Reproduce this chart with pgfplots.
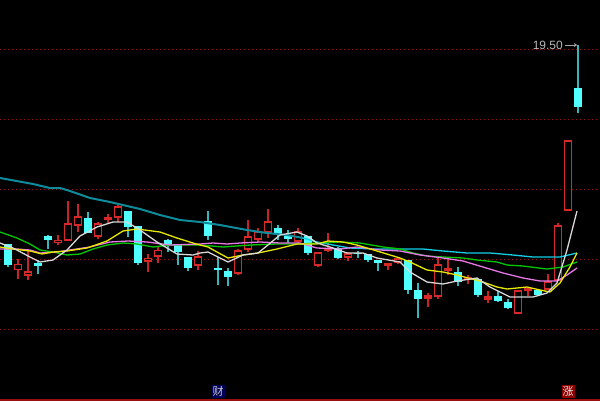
\documentclass[border=0pt]{standalone}
\usepackage{pgfplots}
\pgfplotsset{compat=1.18}
\usetikzlibrary{arrows.meta}
\usepackage{fontspec}
\setmainfont{Liberation Sans}
\newfontfamily\cjk{Noto Sans CJK SC}
\definecolor{cbody}{HTML}{50FFFF}
\definecolor{cwick}{HTML}{38B4BC}
\definecolor{rbody}{HTML}{D82828}
\definecolor{rwick}{HTML}{C42424}
\definecolor{gridred}{HTML}{9A1010}
\definecolor{tealma}{HTML}{0E8C9C}
\definecolor{cyanma}{HTML}{10D0E8}
\definecolor{greenma}{HTML}{00C800}
\definecolor{pinkma}{HTML}{E878E8}
\definecolor{yellowma}{HTML}{E8E800}
\definecolor{whitema}{HTML}{D8D8D8}
\newcommand\cyancandle[5]{%
  \addplot[cwick,line width=1.4pt,forget plot] coordinates {(#1,#2)(#1,#3)};
  \pgfmathsetmacro\xl{#1-3.7}\pgfmathsetmacro\xr{#1+3.7}%
  \edef\tmp{\noexpand\addplot[fill=cbody,draw=none,forget plot] coordinates {(\xl,#4)(\xr,#4)(\xr,#5)(\xl,#5)} -- cycle;}\tmp}
\newcommand\redcandle[5]{%
  \addplot[rwick,line width=1.4pt,forget plot] coordinates {(#1,#2)(#1,#3)};
  \pgfmathsetmacro\xl{#1-3.4}\pgfmathsetmacro\xr{#1+3.4}%
  \edef\tmp{\noexpand\addplot[fill=black,draw=rbody,line width=1.3pt,forget plot] coordinates {(\xl,#4)(\xr,#4)(\xr,#5)(\xl,#5)} -- cycle;}\tmp}
\newcommand\gridrow[1]{\addplot[gridred,line width=1pt,dash pattern=on 1pt off 3pt,forget plot] coordinates {(0,#1)(600,#1)};}
\begin{document}
\begin{tikzpicture}
\begin{axis}[
  scale only axis, width=600pt, height=400pt,
  xmin=0, xmax=600, ymin=0, ymax=400, y dir=reverse,
  axis background/.style={fill=black},
  axis line style={draw=none},
  xtick=\empty, ytick=\empty,
  clip=true,
]
\gridrow{49}\gridrow{119}\gridrow{189}\gridrow{259}\gridrow{329}
\addplot[gridred,line width=2pt,forget plot] coordinates {(0,399.5)(600,399.5)};
% candles: x, high, low, body top, body bottom
\cyancandle{8}{244}{267}{244}{265}
\redcandle{18}{259}{279}{264.3}{269.3}
\redcandle{28}{251}{280}{272}{275}
\cyancandle{38}{260}{274}{263}{266}
\cyancandle{48}{235}{249}{236}{240}
\redcandle{58}{235}{245}{240.5}{242.5}
\redcandle{68}{201}{240}{224}{240}
\redcandle{78}{204}{232}{217}{225}
\cyancandle{88}{212}{233}{218}{233}
\redcandle{98}{222}{239}{224}{236}
\redcandle{108}{214}{223}{218}{219}
\redcandle{118}{205}{222}{207}{217}
\cyancandle{128}{211}{237}{211}{227}
\cyancandle{138}{226}{265}{226}{263}
\redcandle{148}{254}{272}{258.5}{261}
\redcandle{158}{247}{263}{250.5}{256}
\cyancandle{168}{239}{252}{240}{245}
\cyancandle{178}{245}{265}{245}{252}
\cyancandle{188}{257}{271}{257}{268}
\redcandle{198}{251}{270}{257}{265}
\cyancandle{208}{211}{240}{221}{236}
\cyancandle{218}{257}{285}{268}{270}
\cyancandle{228}{268}{286}{271}{277}
\redcandle{238}{249}{275}{251}{273}
\redcandle{248}{220}{252}{237}{249}
\redcandle{258}{228}{242}{232}{239}
\redcandle{268}{209}{238}{222}{232}
\cyancandle{278}{225}{240}{228}{234}
\cyancandle{288}{230}{243}{236}{239}
\redcandle{298}{228}{243}{232}{241}
\cyancandle{308}{236}{255}{236}{253}
\redcandle{318}{253}{267}{253}{265}
\redcandle{328}{233}{252}{248.5}{250}
\cyancandle{338}{247}{259}{248}{258}
\redcandle{348}{252}{261}{254}{257}
\cyancandle{358}{251}{258}{253}{254}
\cyancandle{368}{254}{262}{254}{260}
\cyancandle{378}{260}{271}{260}{263}
\redcandle{388}{263}{270}{264}{265}
\redcandle{398}{257}{264}{259}{262}
\cyancandle{408}{260}{294}{260}{290}
\cyancandle{418}{283}{318}{290}{299}
\redcandle{428}{293}{307}{296}{298}
\redcandle{438}{257}{299}{265}{296}
\redcandle{448}{258}{275}{268.5}{270}
\cyancandle{458}{267}{286}{272}{282}
\redcandle{468}{275}{284}{278}{279}
\cyancandle{478}{279}{297}{279}{295}
\redcandle{488}{291}{303}{297}{299}
\cyancandle{498}{291}{302}{296}{301}
\cyancandle{508}{299}{309}{302}{308}
\redcandle{518}{290}{313}{291}{313}
\redcandle{528}{288}{296}{289}{290}
\cyancandle{538}{289}{296}{290}{295}
\redcandle{548}{274}{290}{282}{289}
\redcandle{558}{223}{280}{226}{280}
\redcandle{568}{140}{210}{141}{210}
\cyancandle{578}{45}{113}{88}{107}
% long average, thick section
\addplot[color=tealma,line width=2pt,line join=round] coordinates {(0,178)(33,184)(50,188)(60,188)(70,191)(90,198)(110,202)(140,209)(160,215)(180,220)(200,222)(220,225)(247,230)(267,233)(287,235)(303,238)};
% cyan
\addplot[color=cyanma,line width=1.3pt,line join=round] coordinates {(303,238)(317,242)(333,245)(350,248)(373,249)(400,249)(423,249)(443,251)(467,253)(490,253)(513,255)(533,257)(560,257)(577,253)};
% green
\addplot[color=greenma,line width=1.3pt,line join=round] coordinates {(0,232)(17,238)(30,244)(40,250)(53,252)(67,255)(80,254)(93,249)(107,245)(123,243)(137,244)(153,247)(170,245)(183,245)(200,245)(223,247)(250,245)(277,244)(300,244)(317,243)(340,242)(360,243)(383,247)(400,249)(413,253)(427,256)(443,257)(463,258)(477,260)(497,262)(507,265)(523,266)(547,269)(563,267)(577,262)};
% magenta
\addplot[color=pinkma,line width=1.3pt,line join=round] coordinates {(0,249)(17,249)(30,250)(40,253)(57,252)(70,250)(90,247)(110,242)(128,241)(147,242)(170,245)(200,244)(213,243)(227,244)(240,243)(260,242)(280,243)(300,243)(310,246)(317,248)(340,249)(357,247)(380,250)(400,251)(420,255)(443,258)(463,261)(483,267)(503,273)(523,278)(540,281)(557,281)(567,275)(577,268)};
% yellow
\addplot[color=yellowma,line width=1.3pt,line join=round] coordinates {(0,247)(13,249)(30,251)(42,254)(53,252)(67,251)(87,248)(107,241)(123,231)(137,229)(160,232)(177,238)(193,243)(200,245)(208,247)(217,252)(228,258)(243,255)(258,253)(277,249)(297,244)(317,244)(328,241)(343,242)(357,245)(377,251)(400,258)(410,262)(427,270)(443,272)(457,275)(468,278)(480,281)(497,287)(507,289)(517,288)(527,287)(540,290)(550,292)(560,283)(570,267)(577,253)};
% white
\addplot[color=whitema,line width=1.3pt,line join=round] coordinates {(0,243)(13,248)(30,257)(40,262)(53,260)(67,250)(80,236)(97,227)(113,222)(127,222)(140,230)(157,242)(177,254)(193,255)(200,253)(208,252)(220,258)(228,262)(243,255)(258,253)(268,245)(280,235)(297,232)(307,236)(317,243)(333,248)(347,253)(363,253)(377,258)(400,262)(410,272)(427,282)(443,284)(457,281)(477,278)(490,287)(510,297)(533,297)(547,293)(557,283)(567,250)(577,211)};
% latest price marker
\addplot[color=white!65!black,line width=1pt,-{Stealth[length=3pt,width=4pt]}] coordinates {(565,45)(577,45)};
\node[text=white!72!black,font=\fontsize{12}{12}\selectfont,anchor=east,inner sep=0pt] at (axis cs:563,45.5) {19.50};
\node[fill=blue!35!black,text=white!80!black,minimum size=13pt,inner sep=0pt,font=\cjk\fontsize{11}{11}\selectfont] at (axis cs:218,391.5) {财};
\node[fill=red!55!black,text=white!90!black,minimum size=13pt,inner sep=0pt,font=\cjk\fontsize{11}{11}\selectfont] at (axis cs:568,391.5) {涨};
\end{axis}
\end{tikzpicture}
\end{document}
